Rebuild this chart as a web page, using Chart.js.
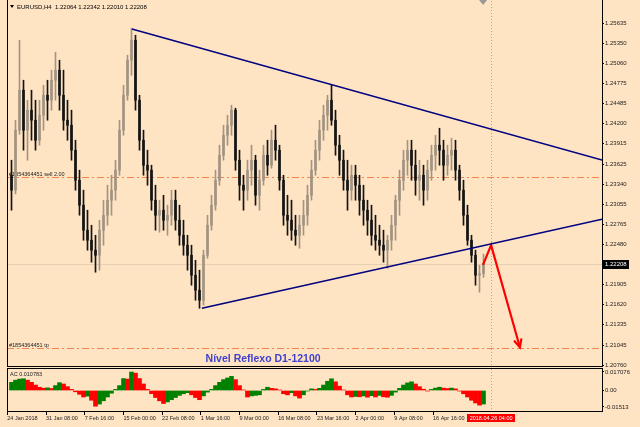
<!DOCTYPE html>
<html><head><meta charset="utf-8">
<script src="https://cdn.jsdelivr.net/npm/chart.js@4.4.1/dist/chart.umd.min.js"></script>
<style>
html,body{margin:0;padding:0;background:#FFE4C4;width:640px;height:427px;overflow:hidden;}
#wrap{position:relative;width:640px;height:427px;}
canvas{position:absolute;left:0;}
#c1{top:-5px;}
#c2{top:363px;}
</style></head><body>
<div id="wrap"><canvas id="c1" width="640" height="376"></canvas><canvas id="c2" width="640" height="64"></canvas></div>
<script>
// ---- data ----
const candleOpen = [1.23466,1.23253,1.24108,1.24678,1.24108,1.24393,1.24250,1.23965,1.24321,1.24606,1.24535,1.24820,1.24963,1.24606,1.24250,1.24179,1.23823,1.23395,1.23039,1.22683,1.22540,1.22398,1.22326,1.22683,1.22896,1.23110,1.23253,1.23538,1.24108,1.24606,1.25105,1.25390,1.24535,1.23965,1.23609,1.23538,1.23110,1.22896,1.22968,1.22825,1.22896,1.23110,1.22825,1.22611,1.22469,1.22326,1.22041,1.21828,1.21685,1.22326,1.22754,1.23039,1.23395,1.23751,1.24036,1.24179,1.24393,1.23680,1.23324,1.23253,1.23538,1.23680,1.23181,1.23395,1.23751,1.23609,1.23965,1.23823,1.23395,1.22896,1.22825,1.22683,1.22611,1.22754,1.22896,1.23181,1.23538,1.23823,1.24108,1.24321,1.24535,1.24250,1.23894,1.23680,1.23395,1.23253,1.23466,1.23324,1.23110,1.22968,1.22825,1.22611,1.22540,1.22469,1.22398,1.22540,1.22754,1.23110,1.23395,1.23680,1.23823,1.23609,1.23395,1.23466,1.23253,1.23538,1.23751,1.23894,1.23823,1.23609,1.23751,1.23823,1.23538,1.23253,1.22896,1.22540,1.22326,1.22041,1.22064];
const candleHigh = [1.23680,1.24250,1.25390,1.24820,1.24535,1.24678,1.24535,1.24535,1.24749,1.24820,1.24963,1.25219,1.25105,1.24963,1.24535,1.24393,1.23965,1.23538,1.23253,1.22968,1.22754,1.22611,1.22825,1.23110,1.23324,1.23466,1.23680,1.24250,1.24749,1.25176,1.25561,1.25461,1.24606,1.24108,1.23823,1.23609,1.23324,1.23110,1.23181,1.23039,1.23253,1.23253,1.23039,1.22825,1.22611,1.22469,1.22255,1.22113,1.22398,1.22896,1.23181,1.23538,1.23894,1.24179,1.24321,1.24464,1.24421,1.23823,1.23466,1.23680,1.23894,1.23751,1.23538,1.23894,1.23965,1.24108,1.24179,1.23894,1.23466,1.23181,1.23110,1.22896,1.22896,1.23110,1.23324,1.23680,1.23965,1.24250,1.24464,1.24606,1.24749,1.24393,1.24036,1.23823,1.23680,1.23609,1.23609,1.23466,1.23324,1.23110,1.23039,1.22896,1.22754,1.22683,1.22611,1.22896,1.23181,1.23538,1.23823,1.23965,1.23965,1.23823,1.23680,1.23609,1.23680,1.23894,1.24036,1.24136,1.23965,1.23894,1.23994,1.23965,1.23609,1.23395,1.23039,1.22611,1.22398,1.22184,1.22342];
const candleLow = [1.22968,1.23200,1.24050,1.23823,1.23680,1.23965,1.23823,1.23894,1.24108,1.24250,1.24393,1.24535,1.24393,1.24108,1.23965,1.23680,1.23253,1.22896,1.22540,1.22398,1.22227,1.22084,1.22113,1.22469,1.22754,1.22896,1.23110,1.23466,1.24036,1.24535,1.24891,1.24393,1.23823,1.23466,1.23324,1.22968,1.22683,1.22654,1.22683,1.22611,1.22754,1.22683,1.22469,1.22326,1.22113,1.21899,1.21685,1.21571,1.21614,1.22284,1.22683,1.22968,1.23324,1.23680,1.23894,1.24036,1.23538,1.23110,1.22968,1.23110,1.23324,1.23039,1.22968,1.23324,1.23466,1.23566,1.23680,1.23253,1.22754,1.22611,1.22540,1.22469,1.22426,1.22611,1.22754,1.23110,1.23466,1.23680,1.23965,1.24108,1.24179,1.23751,1.23466,1.23253,1.22968,1.23110,1.23110,1.22896,1.22754,1.22611,1.22469,1.22398,1.22326,1.22227,1.22141,1.22398,1.22540,1.22896,1.23253,1.23466,1.23395,1.23181,1.23110,1.23039,1.23110,1.23395,1.23538,1.23609,1.23395,1.23466,1.23538,1.23395,1.23110,1.22754,1.22469,1.22227,1.21899,1.21799,1.22010];
const candleClose = [1.23253,1.24108,1.24678,1.24108,1.24393,1.24250,1.23965,1.24321,1.24606,1.24535,1.24820,1.24963,1.24606,1.24250,1.24179,1.23823,1.23395,1.23039,1.22683,1.22540,1.22398,1.22326,1.22683,1.22896,1.23110,1.23253,1.23538,1.24108,1.24606,1.25105,1.25390,1.24535,1.23965,1.23609,1.23538,1.23110,1.22896,1.22968,1.22825,1.22896,1.23110,1.22825,1.22611,1.22469,1.22326,1.22041,1.21828,1.21685,1.22326,1.22754,1.23039,1.23395,1.23751,1.24036,1.24179,1.24393,1.23680,1.23324,1.23253,1.23538,1.23680,1.23181,1.23395,1.23751,1.23609,1.23965,1.23823,1.23395,1.22896,1.22825,1.22683,1.22611,1.22754,1.22896,1.23181,1.23538,1.23823,1.24108,1.24321,1.24535,1.24250,1.23894,1.23680,1.23395,1.23253,1.23466,1.23324,1.23110,1.22968,1.22825,1.22611,1.22540,1.22469,1.22398,1.22540,1.22754,1.23110,1.23395,1.23680,1.23823,1.23609,1.23395,1.23466,1.23253,1.23538,1.23751,1.23894,1.23823,1.23609,1.23751,1.23823,1.23538,1.23253,1.22896,1.22540,1.22326,1.22041,1.22064,1.22208];
const acValues = [0.0075,0.0095,0.0105,0.0108,0.0095,0.0075,0.0050,0.0030,0.0021,0.0024,0.0018,0.0045,0.0072,0.0060,0.0035,0.0010,-0.0012,-0.0035,-0.0060,-0.0052,-0.0090,-0.0145,-0.0125,-0.0095,-0.0060,-0.0025,0.0010,0.0045,0.0110,0.0105,0.0170,0.0160,0.0110,0.0060,0.0010,-0.0030,-0.0065,-0.0095,-0.0120,-0.0105,-0.0085,-0.0065,-0.0045,-0.0030,-0.0020,-0.0040,-0.0065,-0.0085,-0.0050,-0.0015,0.0010,0.0045,0.0075,0.0100,0.0115,0.0130,0.0100,0.0045,0.0005,-0.0060,-0.0050,-0.0045,-0.0040,0.0010,0.0030,0.0020,0.0015,0.0005,-0.0030,-0.0040,-0.0020,-0.0050,-0.0070,-0.0040,-0.0005,0.0015,0.0010,0.0020,0.0050,0.0085,0.0108,0.0080,0.0040,0.0005,-0.0040,-0.0060,-0.0055,-0.0058,-0.0050,-0.0062,-0.0048,-0.0060,-0.0045,-0.0058,-0.0062,-0.0045,-0.0015,0.0020,0.0050,0.0070,0.0080,0.0060,0.0035,0.0012,-0.0005,0.0010,0.0022,0.0030,0.0022,0.0018,0.0022,0.0015,-0.0005,-0.0030,-0.0060,-0.0090,-0.0115,-0.0135,-0.0125];
const priceTicks = [1.25635,1.25350,1.25060,1.24775,1.24485,1.24200,1.23915,1.23625,1.23340,1.23055,1.22765,1.22480,1.21905,1.21620,1.21335,1.21045,1.20760];
const acTicks = [0.017076, 0, -0.01513];
const acTickLabels = ['0.017076','0.00','-0.01513'];
const timeLabels = ['24 Jan 2018','31 Jan 08:00','7 Feb 16:00','15 Feb 00:00','22 Feb 08:00','1 Mar 16:00','9 Mar 00:00','16 Mar 08:00','23 Mar 16:00','2 Apr 00:00','9 Apr 08:00','16 Apr 16:00'];
const upperTrend = [{x:30.1, y:1.25549},{x:147.625, y:1.23682}];
const lowerTrend = [{x:47.6, y:1.21572},{x:147.625, y:1.22841}];
const arrowPath = [{x:117.95, y:1.22199},{x:119.9, y:1.22470},{x:127.1, y:1.21016}];
const sellLevel = 1.2344, tpLevel = 1.2101, currentPrice = 1.22208;
const orderLabels = ['#1854364451 sell 2.00', '#1854364451 tp'];
const headerText = 'EURUSD,H4  1.22064 1.22342 1.22010 1.22208';
const acLabel = 'AC 0.010783';
const cursorIndex = 119.9, cursorLabel = '2018.04.26 04:00';
const reflexLabel = {text:'Nível Reflexo D1-12100', x:62.9, price:1.2081};

Chart.defaults.font.family = '"Liberation Sans", Arial, sans-serif';
const FONT = '"Liberation Sans", Arial, sans-serif';
const BG = '#FFE4C4';
const bullCol = '#A39482', bearCol = '#141414';
const candleCols = candleClose.map((c,i)=> c >= candleOpen[i] ? bullCol : bearCol);
const acCols = acValues.map((v,i)=> (i===0 || v >= acValues[i-1]) ? '#008000' : '#FF0000');
const xMin = -1.125, xMax = 147.625;
const yMin = 1.20748, yMax = 1.25963;

function hline(ctx,x1,x2,y){ctx.beginPath();ctx.moveTo(x1,y);ctx.lineTo(x2,y);ctx.stroke();}
function vline(ctx,x,y1,y2){ctx.beginPath();ctx.moveTo(x,y1);ctx.lineTo(x,y2);ctx.stroke();}

const mainDecor = {
  id:'mainDecor',
  beforeDatasetsDraw(chart){
    const {ctx, chartArea:a, scales:{x,y}} = chart;
    ctx.save();
    const yc = Math.round(y.getPixelForValue(currentPrice))+0.5;
    ctx.strokeStyle='rgba(185,165,150,0.35)'; ctx.lineWidth=1;
    hline(ctx,a.left,a.right,yc);
    ctx.strokeStyle='#F2844E'; ctx.setLineDash([7,3,2,3]);
    const ys = Math.round(y.getPixelForValue(sellLevel))+0.5;
    const yt = Math.round(y.getPixelForValue(tpLevel))+0.5;
    hline(ctx,a.left,a.right,ys); hline(ctx,a.left,a.right,yt);
    ctx.setLineDash([1,2]); ctx.strokeStyle='#F08A8A';
    const xv = Math.round(x.getPixelForValue(cursorIndex))+0.5;
    vline(ctx,xv,0,a.bottom);
    ctx.setLineDash([]);
    ctx.fillStyle='#1a1a1a'; ctx.font='5.5px '+FONT; ctx.textBaseline='alphabetic'; ctx.textAlign='left';
    ctx.fillText(orderLabels[0], a.left+2, ys-2);
    ctx.fillText(orderLabels[1], a.left+2, yt-2);
    ctx.restore();
  },
  afterDatasetsDraw(chart){
    const {ctx, chartArea:a, scales:{x,y}} = chart;
    ctx.save();
    // arrow head
    const p1 = arrowPath[arrowPath.length-2], p2 = arrowPath[arrowPath.length-1];
    const x1=x.getPixelForValue(p1.x), y1=y.getPixelForValue(p1.y), x2=x.getPixelForValue(p2.x), y2=y.getPixelForValue(p2.y);
    const ang = Math.atan2(y2-y1,x2-x1), L=8, w=0.45;
    ctx.strokeStyle='#FF0000'; ctx.lineWidth=2.2; ctx.lineCap='round';
    ctx.beginPath();
    ctx.moveTo(x2-L*Math.cos(ang-w), y2-L*Math.sin(ang-w));
    ctx.lineTo(x2,y2);
    ctx.lineTo(x2-L*Math.cos(ang+w), y2-L*Math.sin(ang+w));
    ctx.stroke();
    // reflex label
    ctx.fillStyle='#4141CC'; ctx.font='bold 10.5px '+FONT; ctx.textAlign='center'; ctx.textBaseline='alphabetic';
    ctx.fillText(reflexLabel.text, x.getPixelForValue(reflexLabel.x), y.getPixelForValue(reflexLabel.price));
    // header
    ctx.fillStyle='#000';
    ctx.beginPath(); ctx.moveTo(10,a.top+5); ctx.lineTo(14,a.top+5); ctx.lineTo(12,a.top+8); ctx.closePath(); ctx.fill();
    ctx.font='6px '+FONT; ctx.textAlign='left'; ctx.textBaseline='middle';
    ctx.fillText(headerText, 17, a.top+7);
    // shift marker
    const xs = x.getPixelForValue(cursorIndex)-8;
    ctx.fillStyle='#9A9A9A';
    ctx.beginPath(); ctx.moveTo(xs-4,a.top); ctx.lineTo(xs+4,a.top); ctx.lineTo(xs,a.top+5); ctx.closePath(); ctx.fill();
    ctx.restore();
  },
  afterDraw(chart){
    const {ctx, chartArea:a, scales:{y}} = chart;
    ctx.save();
    ctx.strokeStyle='#000'; ctx.lineWidth=1;
    vline(ctx,a.left+0.5,0,a.bottom+1);
    vline(ctx,a.right+0.5,0,a.bottom+1);
    hline(ctx,a.left,a.right+1,a.bottom+0.5);
    const yc = y.getPixelForValue(currentPrice);
    ctx.fillStyle='#000'; ctx.fillRect(a.right+1, Math.round(yc)-4, 26, 9);
    ctx.fillStyle='#fff'; ctx.font='6px '+FONT; ctx.textAlign='left'; ctx.textBaseline='middle';
    ctx.fillText(currentPrice.toFixed(5), a.right+3, Math.round(yc)+0.5);
    ctx.restore();
  }
};

const oscDecor = {
  id:'oscDecor',
  beforeDatasetsDraw(chart){
    const {ctx, chartArea:a, scales:{x}} = chart;
    ctx.save();
    ctx.strokeStyle='#F08A8A'; ctx.setLineDash([1,2]); ctx.lineWidth=1;
    const xv = Math.round(x.getPixelForValue(cursorIndex))+0.5;
    vline(ctx,xv,a.top,a.bottom);
    ctx.restore();
  },
  afterDraw(chart){
    const {ctx, chartArea:a, scales:{x}} = chart;
    ctx.save();
    ctx.strokeStyle='#000'; ctx.lineWidth=1;
    ctx.strokeRect(a.left+0.5, a.top-0.5, a.right-a.left, a.bottom-a.top+1);
    ctx.fillStyle='#1a1a1a'; ctx.font='5.5px '+FONT; ctx.textAlign='left'; ctx.textBaseline='middle';
    ctx.fillText(acLabel, a.left+3, a.top+5);
    const xv = x.getPixelForValue(cursorIndex);
    ctx.fillStyle='#FF0000'; ctx.fillRect(Math.round(xv)-24, a.bottom+3, 48, 8);
    ctx.fillStyle='#fff'; ctx.textAlign='center';
    ctx.fillText(cursorLabel, xv, a.bottom+7.5);
    ctx.restore();
  }
};

const idx = candleOpen.map((_,i)=>i);
new Chart(document.getElementById('c1'), {
  type:'bar',
  data:{datasets:[
    {type:'line', data:upperTrend, borderColor:'#000080', borderWidth:1.5, pointRadius:0, order:0},
    {type:'line', data:lowerTrend, borderColor:'#000080', borderWidth:1.5, pointRadius:0, order:0},
    {type:'line', data:arrowPath, borderColor:'#FF0000', borderWidth:2.2, pointRadius:0, order:0, borderCapStyle:'round'},
    {type:'bar', data:idx.map(i=>({x:i, y:[candleOpen[i], candleClose[i]]})), backgroundColor:candleCols, barThickness:2, grouped:false, order:1, minBarLength:1},
    {type:'bar', data:idx.map(i=>({x:i, y:[candleLow[i], candleHigh[i]]})), backgroundColor:candleCols, barThickness:1, grouped:false, order:2}
  ]},
  options:{
    animation:false, responsive:false, maintainAspectRatio:false,
    layout:{padding:{left:7,right:0,top:5,bottom:5}},
    plugins:{legend:{display:false}, tooltip:{enabled:false}},
    scales:{
      x:{type:'linear', min:xMin, max:xMax, display:false, offset:false},
      y:{position:'right', min:yMin, max:yMax,
        afterBuildTicks: ax => { ax.ticks = priceTicks.map(v=>({value:v})); },
        afterFit: ax => { ax.width = 38; },
        border:{display:false},
        grid:{drawOnChartArea:false, drawTicks:true, tickLength:2, color:'#000'},
        ticks:{autoSkip:false, padding:1, color:'#222', font:{size:6}, callback:v=>Number(v).toFixed(5)}
      }
    }
  },
  plugins:[mainDecor]
});

new Chart(document.getElementById('c2'), {
  type:'bar',
  data:{datasets:[{data:acValues.map((v,i)=>({x:i,y:v})), backgroundColor:acCols, barThickness:4, borderWidth:0}]},
  options:{
    animation:false, responsive:false, maintainAspectRatio:false,
    layout:{padding:{left:7,right:0,top:6,bottom:0}},
    plugins:{legend:{display:false}, tooltip:{enabled:false}},
    scales:{
      x:{type:'linear', min:xMin, max:xMax, offset:false, position:'bottom',
        afterBuildTicks: ax => { ax.ticks = timeLabels.map((_,k)=>({value:-1.05 + 9.675*k})); },
        afterFit: ax => { ax.height = 16; },
        border:{display:false},
        grid:{drawOnChartArea:false, drawTicks:true, tickLength:4, color:'#000', offset:false},
        ticks:{autoSkip:false, maxRotation:0, minRotation:0, align:'start', padding:0, color:'#222', font:{size:5.5}, callback:(v,i)=>timeLabels[i]}
      },
      y:{position:'right', min:-0.0189, max:0.0198,
        afterBuildTicks: ax => { ax.ticks = acTicks.map(v=>({value:v})); },
        afterFit: ax => { ax.width = 38; },
        border:{display:false},
        grid:{drawOnChartArea:false, drawTicks:true, tickLength:2, color:'#000'},
        ticks:{autoSkip:false, padding:1, color:'#222', font:{size:6}, callback:(v,i)=>acTickLabels[i]}
      }
    }
  },
  plugins:[oscDecor]
});
</script>
</body></html>
